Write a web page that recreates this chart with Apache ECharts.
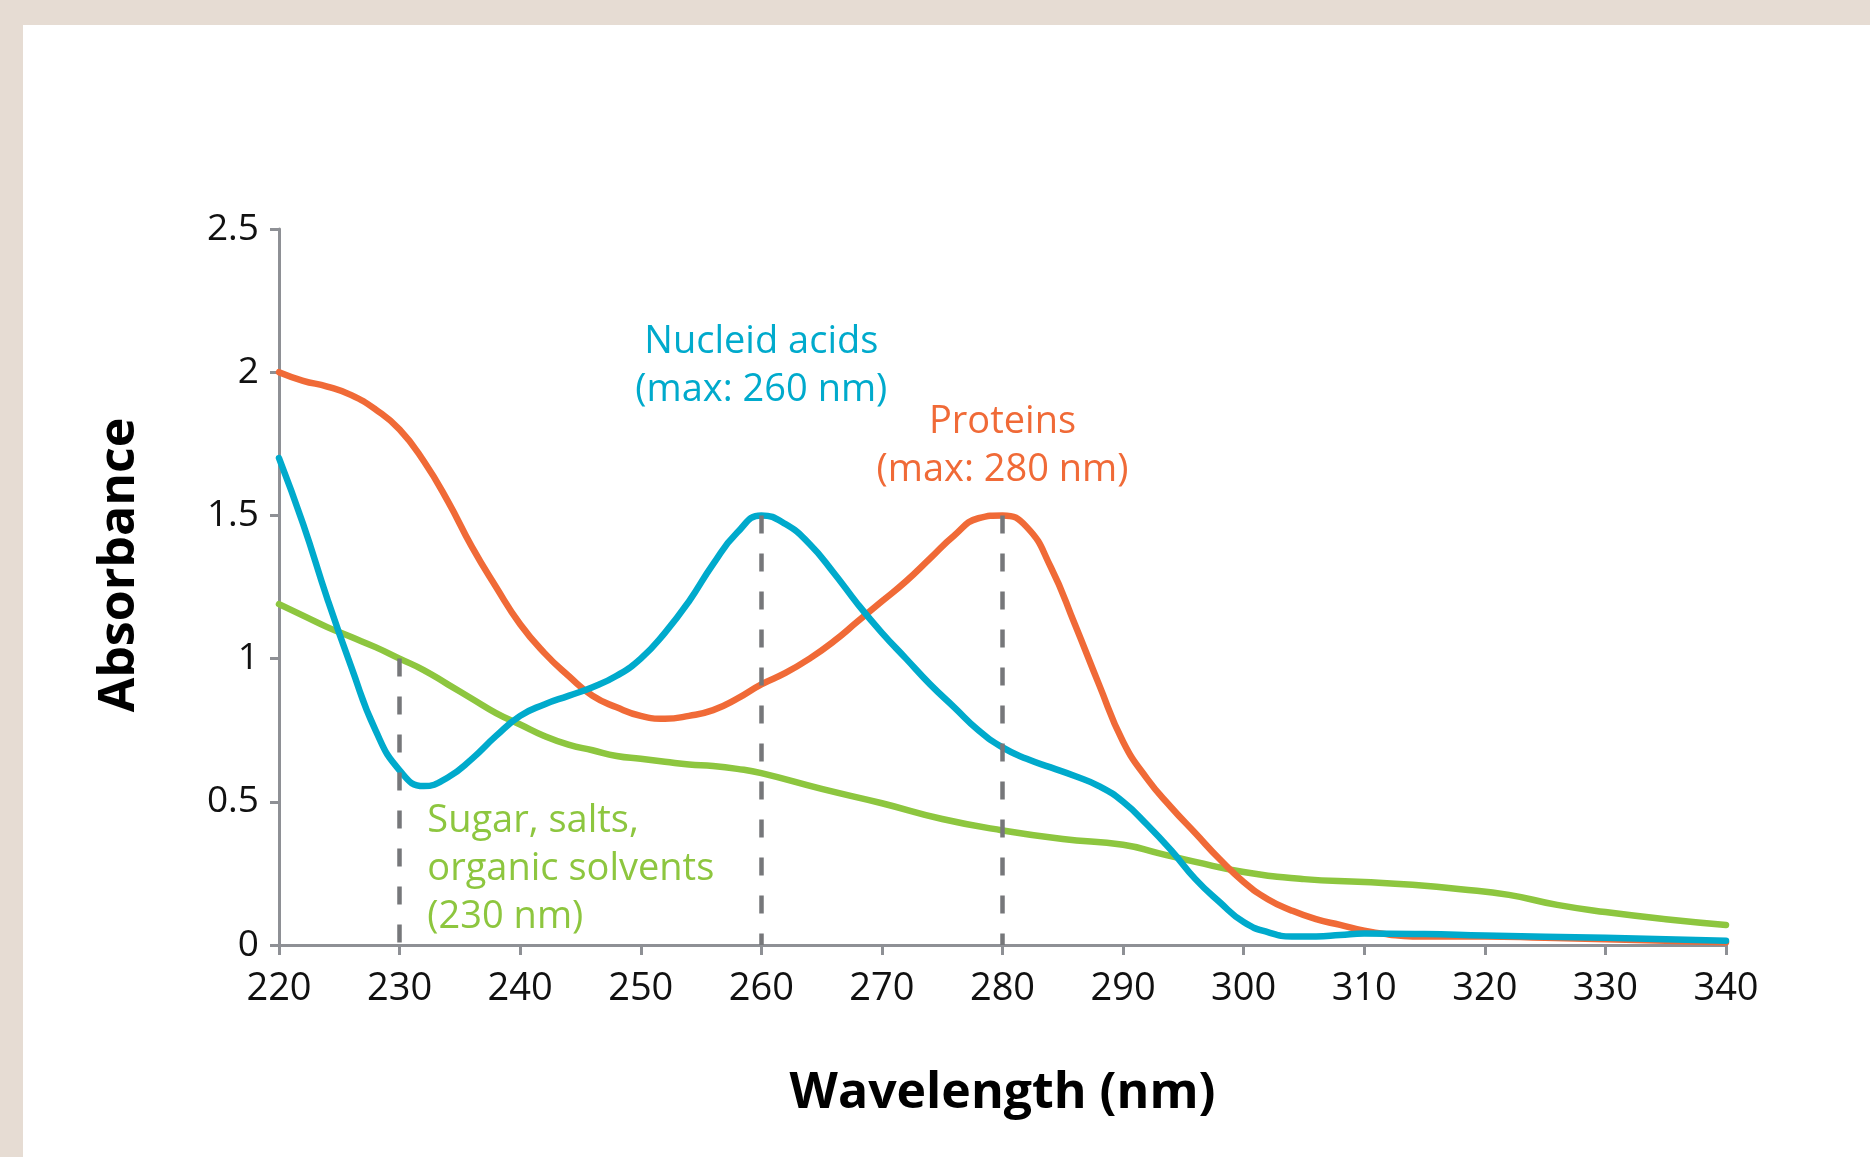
<!DOCTYPE html>
<html>
<head>
<meta charset="utf-8">
<script src="https://cdn.jsdelivr.net/npm/echarts@6/dist/echarts.min.js"></script>
<style>
  html, body { margin: 0; padding: 0; background: #e6dcd3; }
  #wrap { position: relative; width: 1870px; height: 1157px; background: #e6dcd3; overflow: hidden; }
  #paper { position: absolute; left: 23px; top: 25px; width: 1847px; height: 1132px; background: #ffffff; }
  #chart { position: absolute; left: 0; top: 0; width: 1870px; height: 1157px; }
</style>
</head>
<body>
<div id="wrap"><div id="paper"></div><div id="chart"></div></div>
<script>
// ---- data ----
const xTicks = [220, 230, 240, 250, 260, 270, 280, 290, 300, 310, 320, 330, 340];
const yTicks = [0, 0.5, 1, 1.5, 2, 2.5];

const nucleicX = [220,222,224,226,228,230,232,234,236,238,240,242,244,246,248,250,252,254,256,258,260,262,264,266,268,270,272,274,276,278,280,282,284,286,288,290,292,294,296,298,300,302,304,306,308,310,315,320,330,340];
const nucleicY = [1.70,1.47,1.21,0.97,0.75,0.61,0.555,0.585,0.65,0.73,0.80,0.84,0.87,0.90,0.94,1.00,1.09,1.20,1.33,1.44,1.50,1.47,1.40,1.30,1.19,1.09,1.00,0.91,0.83,0.75,0.69,0.65,0.62,0.59,0.555,0.50,0.42,0.33,0.23,0.15,0.08,0.045,0.03,0.03,0.035,0.04,0.038,0.033,0.025,0.015];

const proteinX = [220,222,224,226,228,230,232,234,236,238,240,242,244,246,248,250,252,254,256,258,260,262,264,266,268,270,272,274,276,278,280,282,284,286,288,290,292,294,296,298,300,302,304,306,308,310,312,314,316,320,325,330,335,340];
const proteinY = [2.00,1.97,1.95,1.92,1.87,1.80,1.69,1.55,1.39,1.25,1.12,1.02,0.94,0.87,0.83,0.80,0.79,0.80,0.82,0.86,0.91,0.95,1.00,1.06,1.13,1.20,1.27,1.35,1.43,1.49,1.50,1.46,1.32,1.12,0.91,0.71,0.58,0.48,0.39,0.30,0.22,0.16,0.12,0.09,0.07,0.05,0.037,0.03,0.03,0.03,0.025,0.02,0.015,0.01];

const sugarX = [220,222,224,226,228,230,232,234,236,238,240,242,244,246,248,250,252,254,256,258,260,265,270,275,280,285,290,293,296,300,305,310,314,318,322,326,330,335,340];
const sugarY = [1.19,1.15,1.11,1.075,1.04,1.00,0.96,0.91,0.86,0.81,0.77,0.73,0.70,0.68,0.66,0.65,0.64,0.63,0.625,0.615,0.60,0.545,0.495,0.44,0.40,0.37,0.35,0.32,0.29,0.255,0.23,0.22,0.21,0.195,0.175,0.14,0.115,0.09,0.07];

// dashed drop lines: wavelength and the curve height they reach
const dropX = [230, 260, 280];
const dropY = [1.0, 1.5, 1.5];

// annotation texts and their anchor points (data units)
const annoText = [
  'Nucleid acids\n(max: 260 nm)',
  'Proteins\n(max: 280 nm)',
  'Sugar, salts,\norganic solvents\n(230 nm)'
];
const annoX = [260, 280, 232.3];
const annoY = [2.02, 1.74, 0.265];

const COLORS = { nucleic: '#00aacc', protein: '#f06a37', sugar: '#8dc63f', axis: '#8e9095', dash: '#76777a' };

const zip = (xs, ys) => xs.map((x, i) => [x, ys[i]]);

const chart = echarts.init(document.getElementById('chart'), null, { renderer: 'canvas' });
const FONT = '"Open Sans", "Noto Sans", sans-serif';

const lineSeries = (name, xs, ys, color, z) => ({
  name, type: 'line', data: zip(xs, ys), smooth: 0.5, showSymbol: false, symbol: 'none',
  lineStyle: { color, width: 6.5, cap: 'round', join: 'round' }, z, silent: true, animation: false
});

const option = {
  animation: false,
  backgroundColor: 'transparent',
  grid: { left: 279, right: 144, top: 229, bottom: 212, containLabel: false },
  xAxis: {
    type: 'value', min: 220, max: 340, interval: 10,
    name: 'Wavelength (nm)', nameLocation: 'middle', nameGap: 124,
    nameTextStyle: { fontFamily: FONT, fontSize: 50, fontWeight: 'bold', color: '#000' },
    axisLine: { show: true, lineStyle: { color: COLORS.axis, width: 3 } },
    axisTick: { show: true, length: 10, lineStyle: { color: COLORS.axis, width: 3 } },
    axisLabel: { fontFamily: FONT, fontSize: 38, color: '#111', margin: 25,
      formatter: v => xTicks.includes(v) ? String(v) : '' },
    splitLine: { show: false }
  },
  yAxis: {
    type: 'value', min: 0, max: 2.5, interval: 0.5,
    name: 'Absorbance', nameLocation: 'middle', nameGap: 134, nameRotate: 90,
    nameTextStyle: { fontFamily: FONT, fontSize: 50, fontWeight: 'bold', color: '#000', padding: [0, 0, 0, 44] },
    axisLine: { show: true, lineStyle: { color: COLORS.axis, width: 3 } },
    axisTick: { show: true, length: 9, lineStyle: { color: COLORS.axis, width: 3 } },
    axisLabel: { fontFamily: FONT, fontSize: 37, color: '#111', margin: 20,
      formatter: v => yTicks.includes(v) ? String(v) : '' },
    splitLine: { show: false }
  },
  series: [
    lineSeries('Sugar, salts, organic solvents', sugarX, sugarY, COLORS.sugar, 2),
    lineSeries('Proteins', proteinX, proteinY, COLORS.protein, 3),
    lineSeries('Nucleic acids', nucleicX, nucleicY, COLORS.nucleic, 4),
    {
      name: 'drops', type: 'line', data: [], z: 6, silent: true,
      markLine: {
        silent: true, symbol: ['none', 'none'], animation: false,
        label: { show: false },
        lineStyle: { color: COLORS.dash, width: 4.5, type: [18, 20] },
        data: dropX.map((x, i) => [{ coord: [x, dropY[i]] }, { coord: [x, 0] }])
      }
    }
  ]
};
chart.setOption(option);

// annotations anchored in data coordinates
const annoColors = [COLORS.nucleic, COLORS.protein, COLORS.sugar];
const annoAlign = ['center', 'center', 'left'];
const graphics = annoText.map((t, i) => {
  const p = chart.convertToPixel({ gridIndex: 0 }, [annoX[i], annoY[i]]);
  return {
    type: 'text', x: p[0], y: p[1], z: 10, silent: true,
    style: { text: t, fill: annoColors[i], font: '38px ' + FONT, lineHeight: 48,
      align: annoAlign[i], verticalAlign: 'middle' }
  };
});
chart.setOption({ graphic: graphics });
</script>
</body>
</html>
